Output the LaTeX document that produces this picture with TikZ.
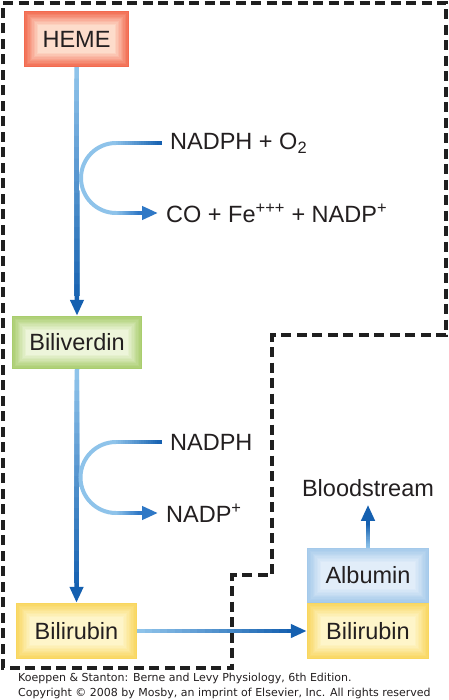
\documentclass[tikz,border=0pt]{standalone}
\usepackage{fontspec}
\setmainfont{Liberation Sans}
\newfontfamily\notefont{DejaVu Sans}
\usetikzlibrary{calc,arrows.meta}

\definecolor{hemeout}{HTML}{F26A4F}
\definecolor{hemein}{HTML}{FDDCCB}
\definecolor{greenout}{HTML}{A9CD6E}
\definecolor{greenin}{HTML}{EDF5DA}
\definecolor{yellowout}{HTML}{F9D65E}
\definecolor{yellowin}{HTML}{FEF5C9}
\definecolor{blueout}{HTML}{A4C9EA}
\definecolor{bluein}{HTML}{E1EDF9}
\definecolor{arrowdark}{HTML}{1560B0}
\definecolor{arrowmid}{HTML}{2F78C6}
\definecolor{arrowlight}{HTML}{8EC3EA}
\definecolor{textgray}{HTML}{231F20}

\tikzset{
  glowbox/.style 2 args={fill=#1, inner sep=0pt, text=textgray,
    font=\fontsize{23.5}{28}\selectfont,
    path picture={
      \foreach \k in {1,...,10}
        \fill[#2!\k0!#1] ([shift={(\k*1.4pt,-\k*1.4pt)}]path picture bounding box.north west)
          rectangle ([shift={(-\k*1.4pt,\k*1.4pt)}]path picture bounding box.south east);
    }},
  lbl/.style={font=\fontsize{23.5}{28}\selectfont, text=textgray, inner xsep=8pt, inner ysep=0pt},
  flow/.style={line width=4.5pt},
  thin flow/.style={line width=4pt},
  border/.style={line width=3.5pt, dash pattern=on 10pt off 5.5pt, draw=black!88},
  note/.style={font=\notefont\fontsize{11}{13}\selectfont, text=textgray, anchor=west, inner sep=0pt},
}

% gradient line, no tip
\newcommand{\fadeline}[5]{%
  \foreach \i [evaluate=\i as \p using int(100-5*\i)] in {0,...,19}
    \draw[#5, #3!\p!#4] ($(#1)!\i/20!(#2)$) -- (#2);
}
% gradient line with tip
\newcommand{\fadearrow}[5]{%
  \coordinate (fa-end) at ($(#2)!20pt!(#1)$);
  \foreach \i [evaluate=\i as \p using int(100-5*\i)] in {0,...,20}
    \draw[#5, #3!\p!#4] ($(#1)!\i/20!(fa-end)$) -- (fa-end);
  \draw[#5, #4, -{Triangle[length=16pt,width=13pt]}] (fa-end) -- (#2);
}

\begin{document}
\begin{tikzpicture}[x=1pt,y=-1pt]
\path[fill=white] (0,0) rectangle (448,700);
\useasboundingbox (0,0) rectangle (448,700);

% region border
\draw[border] (3,3) -- (446,3) -- (446,335) -- (272,335) -- (272,575)
  -- (232,575) -- (232,668) -- (3,668) -- cycle;

% boxes
\node[glowbox={hemeout}{hemein}, minimum width=105pt, minimum height=56pt] (heme) at (76.5,39) {HEME};
\node[glowbox={greenout}{greenin}, minimum width=130pt, minimum height=53pt] (biliverdin) at (77,342.5) {Biliverdin};
\node[glowbox={yellowout}{yellowin}, minimum width=121pt, minimum height=56pt] (bilirubin) at (76.5,631) {Bilirubin};
\node[glowbox={blueout}{bluein}, minimum width=122pt, minimum height=55pt] (albumin) at (368,575.5) {Albumin};
\node[glowbox={yellowout}{yellowin}, minimum width=122pt, minimum height=56pt] (bound) at (368,631) {Bilirubin};

% side labels
\node[lbl, anchor=west] (nadph1) at (162,143) {NADPH + O\textsubscript{2}};
\node[lbl, anchor=west] (products) at (158,213) {CO + Fe\textsuperscript{+++} + NADP\textsuperscript{+}};
\node[lbl, anchor=west] (nadph2) at (162,442) {NADPH};
\node[lbl, anchor=west] (nadp) at (158,513) {NADP\textsuperscript{+}};
\node[lbl, inner sep=8pt] (blood) at (368,488) {Bloodstream};

% main pathway
\fadearrow{heme.south}{biliverdin.north}{arrowlight}{arrowdark}{flow}
\fadearrow{biliverdin.south}{bilirubin.north}{arrowlight}{arrowdark}{flow}
\fadearrow{bilirubin.east}{bound.west}{arrowlight}{arrowdark}{flow}
\fadearrow{albumin.north}{blood.south}{arrowlight}{arrowdark}{flow}

% side reactions
\coordinate (c1a) at (116,143);
\coordinate (c1b) at (116,213);
\draw[thin flow, arrowlight] (c1a) arc[start angle=270, end angle=90, radius=35];
\fadeline{nadph1.west}{c1a}{arrowdark}{arrowlight}{thin flow}
\fadearrow{c1b}{products.west}{arrowlight}{arrowmid}{thin flow}

\coordinate (c2a) at (116,442);
\coordinate (c2b) at (116,513);
\draw[thin flow, arrowlight] (c2a) arc[start angle=270, end angle=90, radius=35.5];
\fadeline{nadph2.west}{c2a}{arrowdark}{arrowlight}{thin flow}
\fadearrow{c2b}{nadp.west}{arrowlight}{arrowmid}{thin flow}

% credit
\node[note] (credit1) at (18,678) {Koeppen \& Stanton: Berne and Levy Physiology, 6th Edition.};
\node[note] (credit2) at (18,693) {Copyright © 2008 by Mosby, an imprint of Elsevier, Inc. All rights reserved};
\end{tikzpicture}
\end{document}
